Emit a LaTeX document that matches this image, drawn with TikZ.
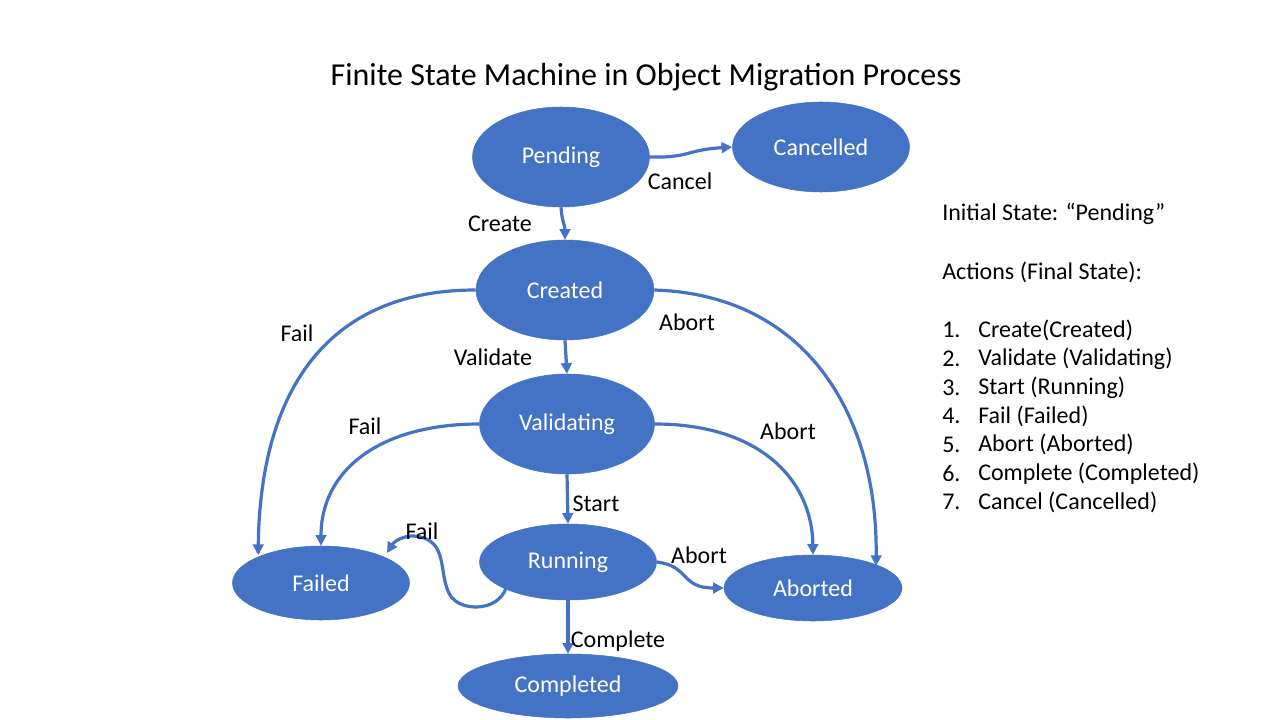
\documentclass[tikz,border=0pt]{standalone}
\usepackage{fontspec}
\setmainfont{Carlito}
\usetikzlibrary{shapes.geometric,arrows.meta}
\definecolor{fsmblue}{HTML}{4472C4}
\tikzset{
  stnode/.style={ellipse, fill=fsmblue, draw=fsmblue, inner sep=0pt, text=white, font=\fontsize{18}{21}\selectfont},
  tr/.style={draw=fsmblue, line width=2.4pt, -{Triangle[length=8pt,width=8pt]}},
  elab/.style={font=\fontsize{18}{21}\selectfont, text=black, inner sep=0pt},
  rtext/.style={font=\fontsize{18}{21}\selectfont, anchor=west, inner sep=0pt}
}
\begin{document}
\begin{tikzpicture}[x=0.75pt,y=-0.75pt]
\useasboundingbox (0,0) rectangle (1280,720);
\node[font=\fontsize{24}{28}\selectfont, inner sep=0pt] (title) at (646,77) {Finite State Machine in Object Migration Process};

\node[stnode, minimum width=177*0.75pt, minimum height=100*0.75pt] (pend) at (561,157) {Pending};
\node[stnode, minimum width=177*0.75pt, minimum height=90*0.75pt] (canc) at (821,147) {Cancelled};
\node[stnode, minimum width=178*0.75pt, minimum height=100*0.75pt] (crea) at (565,290) {Created};
\node[stnode, minimum width=175*0.75pt, minimum height=100*0.75pt] (vali) at (567,424) {Validating};
\node[stnode, minimum width=177*0.75pt, minimum height=76*0.75pt] (runn) at (568,562) {Running};
\node[stnode, minimum width=177*0.75pt, minimum height=74*0.75pt] (fail) at (321,583) {Failed};
\node[stnode, minimum width=178*0.75pt, minimum height=66*0.75pt] (abor) at (813,588) {Aborted};
\node[stnode, minimum width=220*0.75pt, minimum height=64*0.75pt] (comp) at (568,686) {Completed};

% Pending -> Cancelled
\draw[tr] (pend.east) .. controls (690,158) and (685,150) .. (canc.west);
% Pending -> Created
\draw[tr] (pend.south) .. controls (562,222) and (565,225) .. (crea.north);
% Created -> Failed
\draw[tr] (crea.west) .. controls (320,290) and (258,400) .. (fail.north west |- 0,553) -- ++(0,2);
% Created -> Aborted
\draw[tr] (crea.east) .. controls (810,295) and (878,420) .. (876,566);
% Created -> Validating
\draw[tr] (crea.south) -- (vali.north);
% Validating -> Failed
\draw[tr] (vali.west) .. controls (380,424) and (321,470) .. (fail.north);
% Validating -> Aborted
\draw[tr] (vali.east) .. controls (760,424) and (812,480) .. (abor.north);
% Validating -> Running
\draw[tr] (vali.south) -- (runn.north);
% Running -> Failed
\coordinate (rf1) at (506,588);
\draw[tr] (rf1) .. controls (498,612) and (460,612) .. (450,595)
  .. controls (440,578) and (446,552) .. (430,541)
  .. controls (412,530) and (395,540) .. (387,553);
% Running -> Aborted
\draw[tr] (runn.east) .. controls (690,566) and (680,588) .. (abor.west);
% Running -> Completed
\draw[tr] (runn.south) -- (comp.north);

\node[elab] (lcancel) at (680,181) {Cancel};
\node[elab] (lcreate) at (500,224) {Create};
\node[elab] (lfail1) at (297,333) {Fail};
\node[elab] (labort1) at (687,322) {Abort};
\node[elab] (lvalid) at (493,357) {Validate};
\node[elab] (lfail2) at (365,426) {Fail};
\node[elab] (labort2) at (788,431) {Abort};
\node[elab] (lstart) at (596,504) {Start};
\node[elab] (lfail3) at (422,531) {Fail};
\node[elab] (labort3) at (699,555) {Abort};
\node[elab] (lcomp) at (618,641) {Complete};

\node[rtext] (init) at (942,214) {Initial State: “Pending”};
\node[rtext] (acts) at (942,272) {Actions (Final State):};
\foreach \n/\t [count=\i] in {1/Create(Created),2/Validate (Validating),3/Start (Running),4/Fail (Failed),5/Abort (Aborted),6/Complete (Completed),7/Cancel (Cancelled)}{
  \node[rtext] (num\i) at (942,{330+28.7*(\i-1)}) {\n.};
  \node[rtext] (item\i) at (978,{330+28.7*(\i-1)}) {\t};
}
\end{tikzpicture}
\end{document}
